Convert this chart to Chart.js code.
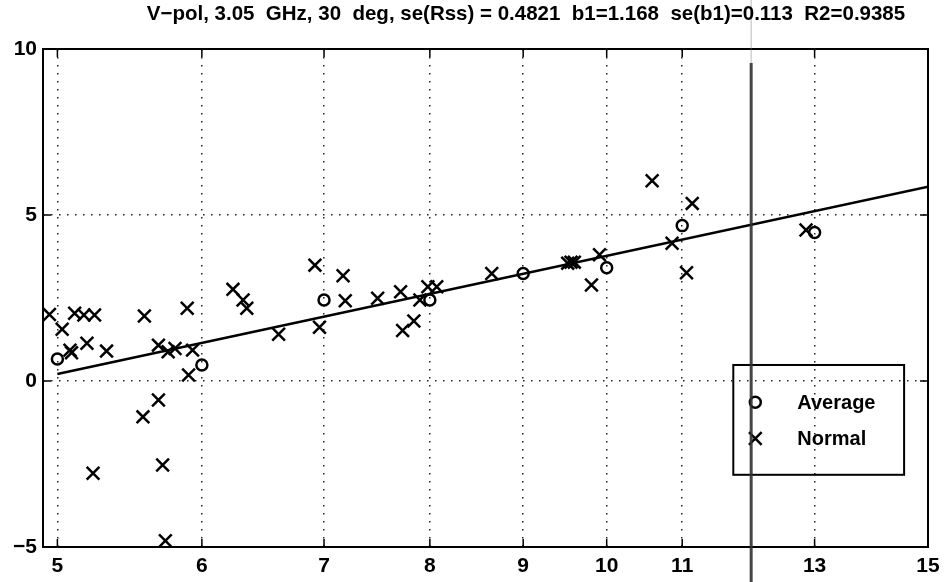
<!DOCTYPE html>
<html>
<head>
<meta charset="utf-8">
<script src="https://cdn.jsdelivr.net/npm/chart.js@4.4.0/dist/chart.umd.min.js"></script>
<style>
    html, body { margin: 0; padding: 0; background: #fff; }
    #wrap { position: relative; width: 947px; height: 582px; }
    #title {
        position: absolute; top: 1px; left: 105px; width: 842px;
        text-align: center; font-family: 'Liberation Sans', Arial, sans-serif;
        font-size: 20.5px; font-weight: bold; color: #000; white-space: pre;
    }
</style>
</head>
<body>
<div id="wrap">
    <div id="title">V−pol, 3.05  GHz, 30  deg, se(Rss) = 0.4821  b1=1.168  se(b1)=0.113  R2=0.9385</div>
    <canvas id="chart" width="947" height="582"></canvas>
</div>
<script>
// Average (circles)
const avgX = [5, 6, 7, 8, 9, 10, 11, 13];
const avgY = [0.66, 0.48, 2.44, 2.44, 3.24, 3.41, 4.68, 4.47];

// Normal (crosses)
const normX = [4.95, 5.03, 5.11, 5.17, 5.24, 5.08, 5.09, 5.19, 5.32, 5.23,
    5.58, 5.57, 5.68, 5.68, 5.71, 5.73, 5.75, 5.80, 5.89, 5.90,
    5.93, 6.24, 6.32, 6.35, 6.61, 6.92, 6.96, 7.17, 7.19, 7.49,
    7.71, 7.73, 7.84, 7.90, 7.98, 8.07, 8.65, 9.52, 9.56, 9.60,
    9.91, 9.81, 10.59, 10.86, 11.14, 11.06, 12.86];
const normY = [2.00, 1.56, 2.04, 1.99, 1.99, 0.93, 0.85, 1.14, 0.90, -2.78,
    1.96, -1.08, -0.57, 1.08, -2.53, -4.81, 0.88, 0.98, 2.19, 0.18,
    0.93, 2.76, 2.44, 2.19, 1.41, 3.49, 1.62, 3.17, 2.42, 2.49,
    2.69, 1.52, 1.81, 2.44, 2.84, 2.84, 3.24, 3.55, 3.58, 3.58,
    3.80, 2.89, 6.03, 4.15, 5.35, 3.26, 4.55];

// fitted line
const fitX = [5, 15];
const fitY = [0.21, 5.85];

// axes
const xTicks = [5, 6, 7, 8, 9, 10, 11, 12, 13, 14, 15];
const xHidden = [12, 14];
const yTicks = [-5, 0, 5, 10];
const xMin = 4.91, xMax = 15;

const legendNames = ['Average', 'Normal'];

function pts(xs, ys) {
    return xs.map((x, i) => ({ x: x, y: ys[i] }));
}

Chart.defaults.font.family = "'Liberation Sans', Arial, sans-serif";
Chart.defaults.color = '#000';

// box, inner ticks, legend and the scan streak at 12
const frame = {
    id: 'frame',
    afterDatasetsDraw(chart) {
        const ctx = chart.ctx;
        const a = chart.chartArea;
        const xs = chart.scales.x, ys = chart.scales.y;
        ctx.save();
        ctx.strokeStyle = '#000';
        ctx.lineWidth = 2;
        ctx.strokeRect(a.left, a.top, a.right - a.left, a.bottom - a.top);

        ctx.lineWidth = 1.5;
        ctx.beginPath();
        xTicks.forEach(v => {
            if (xHidden.includes(v)) return;
            const px = xs.getPixelForValue(v);
            ctx.moveTo(px, a.bottom); ctx.lineTo(px, a.bottom - 8);
            ctx.moveTo(px, a.top); ctx.lineTo(px, a.top + 8);
        });
        yTicks.forEach(v => {
            const py = ys.getPixelForValue(v);
            ctx.moveTo(a.left, py); ctx.lineTo(a.left + 8, py);
            ctx.moveTo(a.right, py); ctx.lineTo(a.right - 8, py);
        });
        ctx.stroke();

        // legend
        const w = a.right - a.left, h = a.bottom - a.top;
        const lx = a.left + w * 0.78, rx = a.left + w * 0.973;
        const ty = a.top + h * 0.6345, by = a.top + h * 0.855;
        ctx.lineWidth = 2;
        ctx.strokeRect(lx, ty, rx - lx, by - ty);
        const rowY = [ty + (by - ty) * 0.34, ty + (by - ty) * 0.67];
        chart.data.datasets.slice(0, 2).forEach((ds, i) => {
            ctx.fillStyle = 'rgba(0,0,0,0)';
            ctx.strokeStyle = '#000';
            ctx.lineWidth = ds.borderWidth;
            Chart.helpers.drawPoint(ctx, {
                pointStyle: ds.pointStyle, radius: ds.pointRadius,
                borderWidth: ds.borderWidth
            }, lx + 22, rowY[i]);
        });
        ctx.fillStyle = '#000';
        ctx.font = "bold 20px 'Liberation Sans', Arial, sans-serif";
        ctx.textBaseline = 'middle';
        legendNames.forEach((t, i) => ctx.fillText(t, lx + 64, rowY[i] + 1));

        // dark streak of the scan
        const sx = xs.getPixelForValue(12);
        ctx.strokeStyle = 'rgba(50,50,50,0.9)';
        ctx.lineWidth = 3;
        ctx.beginPath();
        ctx.moveTo(sx, a.top + 14); ctx.lineTo(sx, chart.height);
        ctx.stroke();
        ctx.strokeStyle = 'rgba(120,120,120,0.5)';
        ctx.lineWidth = 1;
        ctx.beginPath();
        ctx.moveTo(sx, 0); ctx.lineTo(sx, a.top + 14);
        ctx.stroke();
        ctx.restore();
    }
};

new Chart(document.getElementById('chart'), {
    type: 'scatter',
    data: {
        datasets: [
            {
                label: 'Average',
                data: pts(avgX, avgY),
                pointStyle: 'circle',
                pointRadius: 5.5,
                borderWidth: 2.5,
                borderColor: '#000',
                backgroundColor: 'rgba(0,0,0,0)'
            },
            {
                label: 'Normal',
                data: pts(normX, normY),
                pointStyle: 'crossRot',
                pointRadius: 9,
                borderWidth: 2.5,
                borderColor: '#000'
            },
            {
                label: 'fit',
                type: 'line',
                data: pts(fitX, fitY),
                showLine: true,
                pointRadius: 0,
                borderWidth: 2.5,
                borderColor: '#000'
            }
        ]
    },
    options: {
        responsive: false,
        animation: false,
        layout: { padding: { top: 49, right: 19, left: 0, bottom: 0 } },
        plugins: {
            legend: { display: false },
            tooltip: { enabled: false }
        },
        scales: {
            x: {
                type: 'logarithmic',
                min: xMin,
                max: xMax,
                afterBuildTicks: s => { s.ticks = xTicks.map(v => ({ value: v })); },
                afterFit: s => { s.height = 35; s.paddingLeft = 0; s.paddingRight = 0; },
                ticks: {
                    autoSkip: false,
                    maxRotation: 0,
                    padding: 7,
                    font: { size: 21, weight: 'bold' },
                    callback: v => xHidden.includes(v) ? '' : String(v)
                },
                grid: {
                    drawTicks: false,
                    lineWidth: 1.5,
                    color: c => (c.tick && (xHidden.includes(c.tick.value) || c.tick.value === xMax))
                        ? 'rgba(0,0,0,0)' : '#222'
                },
                border: { display: false, dash: [1.5, 6.5] }
            },
            y: {
                min: -5,
                max: 10,
                afterBuildTicks: s => { s.ticks = yTicks.map(v => ({ value: v })); },
                afterFit: s => { s.width = 43; s.paddingTop = 0; s.paddingBottom = 0; },
                ticks: {
                    padding: 6,
                    font: { size: 21, weight: 'bold' },
                    callback: v => v < 0 ? '−' + Math.abs(v) : String(v)
                },
                grid: {
                    drawTicks: false,
                    lineWidth: 1.5,
                    color: '#222'
                },
                border: { display: false, dash: [1.5, 6.5] }
            }
        }
    },
    plugins: [frame]
});
</script>
</body>
</html>
